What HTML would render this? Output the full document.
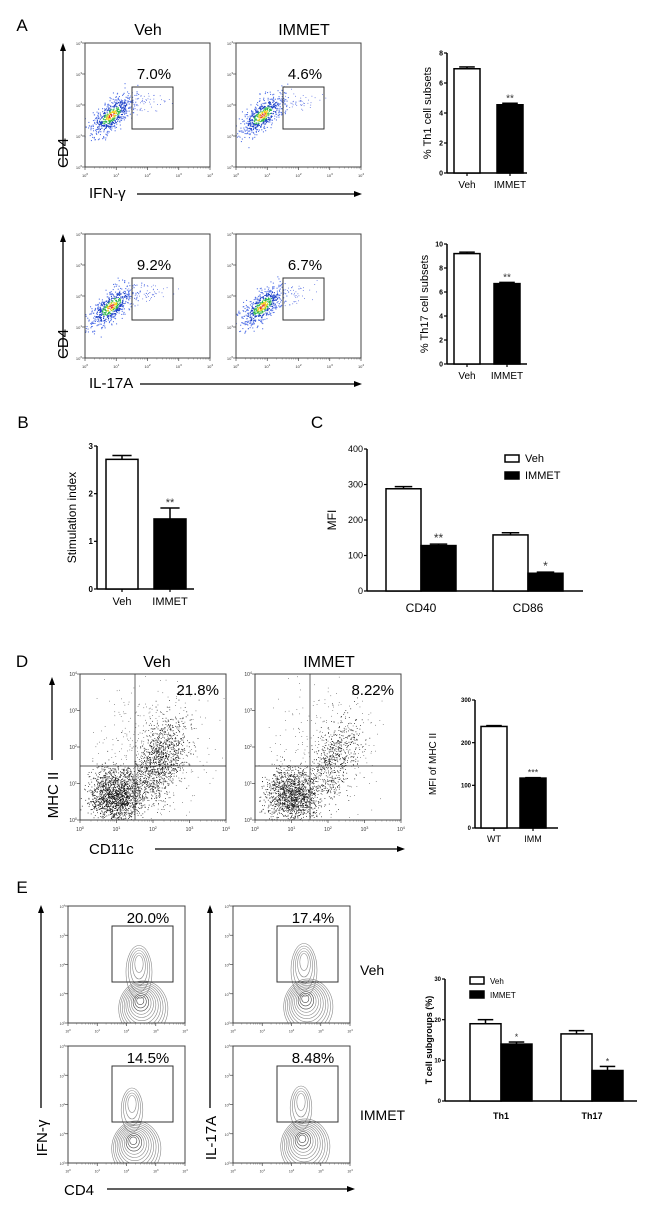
<!DOCTYPE html>
<html><head><meta charset="utf-8"><title>Figure</title>
<style>
html,body{margin:0;padding:0;background:#fff;}
svg{display:block;font-family:"Liberation Sans",Arial,sans-serif;}
</style></head>
<body>
<svg id="fig" width="650" height="1209" viewBox="0 0 650 1209" xmlns="http://www.w3.org/2000/svg">
<rect x="0" y="0" width="650" height="1209" fill="#fff"/>
<defs id="defs"></defs>
<g id="root"></g>
</svg>
<script>
// ---------- data ----------
const th1Cats = ["Veh", "IMMET"];
const th1Vals = [6.95, 4.55];
const th1Errs = [0.12, 0.1];
const th1Ticks = [0, 2, 4, 6, 8];
const th1Stars = ["", "**"];

const th17Cats = ["Veh", "IMMET"];
const th17Vals = [9.2, 6.7];
const th17Errs = [0.12, 0.1];
const th17Ticks = [0, 2, 4, 6, 8, 10];
const th17Stars = ["", "**"];

const siCats = ["Veh", "IMMET"];
const siVals = [2.72, 1.47];
const siErrs = [0.08, 0.23];
const siTicks = [0, 1, 2, 3];
const siStars = ["", "**"];

const mfiGroups = ["CD40", "CD86"];
const mfiVeh = [288, 158];
const mfiVehErr = [6, 6];
const mfiImm = [128, 50];
const mfiImmErr = [4, 3];
const mfiTicks = [0, 100, 200, 300, 400];
const mfiStars = ["**", "*"];

const mhcCats = ["WT", "IMM"];
const mhcVals = [238, 117];
const mhcErrs = [2, 1];
const mhcTicks = [0, 100, 200, 300];
const mhcStars = ["", "***"];

const tGroups = ["Th1", "Th17"];
const tVeh = [19, 16.5];
const tVehErr = [1, 0.8];
const tImm = [14, 7.5];
const tImmErr = [0.5, 1];
const tTicks = [0, 10, 20, 30];
const tStars = ["*", "*"];

const flowPctA = ["7.0%", "4.6%", "9.2%", "6.7%"];
const flowPctD = ["21.8%", "8.22%"];
const flowPctE = ["20.0%", "17.4%", "14.5%", "8.48%"];

// ---------- helpers ----------
const NS = "http://www.w3.org/2000/svg";
const root = document.getElementById("root");
const defs = document.getElementById("defs");
let clipId = 0;
function el(tag, attrs, parent, text) {
  const e = document.createElementNS(NS, tag);
  for (const k in attrs) e.setAttribute(k, attrs[k]);
  if (text !== undefined) e.textContent = text;
  (parent || root).appendChild(e);
  return e;
}
function grp(name, parent) {
  const g = el("g", {}, parent);
  
  
  return g;
}
function txt(parent, name, x, y, s, size, opts) {
  opts = opts || {};
  const t = el("text", {x: x, y: y, "font-size": size, fill: opts.fill || "#000",
    "text-anchor": opts.anchor || "middle", "font-weight": opts.bold ? "bold" : "normal"}, parent, s);
  if (opts.rot) t.setAttribute("transform", "rotate(-90 " + x + " " + y + ")");
  
  
  return t;
}
function arrowH(parent, name, x1, x2, y) {
  const g = grp(name, parent);
  el("line", {x1: x1, y1: y, x2: x2 - 6, y2: y, stroke: "#000", "stroke-width": 1.3}, g);
  el("polygon", {points: (x2) + "," + y + " " + (x2 - 8) + "," + (y - 3) + " " + (x2 - 8) + "," + (y + 3), fill: "#000"}, g);
}
function arrowV(parent, name, x, y1, y2) {
  const g = grp(name, parent);
  el("line", {x1: x, y1: y2, x2: x, y2: y1 + 6, stroke: "#000", "stroke-width": 1.3}, g);
  el("polygon", {points: x + "," + y1 + " " + (x - 3) + "," + (y1 + 8) + " " + (x + 3) + "," + (y1 + 8), fill: "#000"}, g);
}
let seed = 12345;
function rnd() { seed = (seed * 16807) % 2147483647; return (seed - 1) / 2147483646; }
function gauss() { let u = 0; for (let i = 0; i < 4; i++) u += rnd(); return (u - 2) / 0.58; }

function logLabel(parent, x, y, exp, size, anchor) {
  const t = el("text", {x: x, y: y, "font-size": size, fill: "#333", "text-anchor": anchor || "middle"}, parent);
  
  
  el("tspan", {}, t, "10");
  el("tspan", {dy: -size * 0.45, "font-size": size * 0.75}, t, String(exp));
  return t;
}
function flowBox(parent, name, x, y, w, h, sz) {
  const g = grp(name, parent);
  const id = "clip" + (clipId++);
  const cp = el("clipPath", {id: id}, defs);
  el("rect", {x: x, y: y, width: w, height: h}, cp);
  const inner = el("g", {"clip-path": "url(#" + id + ")"}, g);
  el("rect", {x: x, y: y, width: w, height: h, fill: "none", stroke: "#444", "stroke-width": 1}, g);
  for (let i = 0; i <= 4; i++) {
    const yy = y + h - i * h / 4, xx = x + i * w / 4;
    logLabel(g, x - 3, yy + 2, i, sz, "end");
    logLabel(g, xx, y + h + sz + 6, i, sz);
    el("line", {x1: x - 3, y1: yy, x2: x, y2: yy, stroke: "#444", "stroke-width": 0.7}, g);
    el("line", {x1: xx, y1: y + h, x2: xx, y2: y + h + 3, stroke: "#444", "stroke-width": 0.7}, g);
    if (i < 4) for (let m = 2; m < 10; m++) {
      const f = Math.log10(m) * w / 4;
      el("line", {x1: xx + f, y1: y + h, x2: xx + f, y2: y + h + 1.5, stroke: "#666", "stroke-width": 0.5}, g);
    }
  }
  return inner;
}
function cluster(parent, cx, cy, sx, sy, rot, n, colorFn, r) {
  const c = Math.cos(rot), s = Math.sin(rot);
  for (let i = 0; i < n; i++) {
    const a = gauss(), b = gauss();
    const dx = a * sx, dy = b * sy;
    const d = Math.sqrt(a * a + b * b);
    el("rect", {x: (cx + dx * c - dy * s).toFixed(1), y: (cy + dx * s + dy * c).toFixed(1), width: r, height: r, fill: colorFn(d)}, parent);
  }
}
const heat = d => d < 0.25 ? "#e0302a" : d < 0.5 ? "#f2d21a" : d < 0.85 ? "#2fb84a" : d < 1.4 ? "#1a3fc8" : "#5a78e8";
const blue = () => "#4a62e0";
const blk = () => "#111";

function bar2(name, parent, ax, y0, yTop, max, xEnd, cats, vals, errs, ticks, stars, bx, bw, fs, bold, ylabel, ylx) {
  const g = grp(name, parent);
  const sy = v => y0 - (v / max) * (y0 - yTop);
  el("line", {x1: ax, y1: yTop, x2: ax, y2: y0, stroke: "#000", "stroke-width": 1.5}, g);
  el("line", {x1: ax, y1: y0, x2: xEnd, y2: y0, stroke: "#000", "stroke-width": 1.5}, g);
  ticks.forEach(t => {
    el("line", {x1: ax - 3, y1: sy(t), x2: ax, y2: sy(t), stroke: "#000", "stroke-width": 1.2}, g);
    txt(g, "y-tick-label", ax - 4, sy(t) + fs * 0.35, String(t), fs, {anchor: "end", bold: bold});
  });
  vals.forEach((v, i) => {
    const x = bx[i];
    const b = el("rect", {x: x, y: sy(v), width: bw, height: y0 - sy(v), fill: i === 0 ? "#fff" : "#000", stroke: "#000", "stroke-width": 1.5}, g);
    
    
    const ey = sy(v + errs[i]);
    el("line", {x1: x + bw / 2, y1: sy(v), x2: x + bw / 2, y2: ey, stroke: "#000", "stroke-width": 1.5}, g);
    el("line", {x1: x + bw / 2 - bw * 0.3, y1: ey, x2: x + bw / 2 + bw * 0.3, y2: ey, stroke: "#000", "stroke-width": 1.5}, g);
    el("line", {x1: x + bw / 2, y1: y0, x2: x + bw / 2, y2: y0 + 3, stroke: "#000", "stroke-width": 1.2}, g);
    txt(g, "x-tick-label", x + bw / 2, y0 + fs + 8, cats[i], fs + 3);
    if (stars[i]) txt(g, "significance-stars", x + bw / 2, ey - 2, stars[i], fs + 3, {fill: "#333"});
  });
  txt(g, "y-axis-title", ylx, (yTop + y0) / 2, ylabel, fs + 4, {rot: true});
  return g;
}
function groupedBar(name, parent, ax, y0, yTop, max, xEnd, groups, veh, vehErr, imm, immErr, ticks, stars, gx, bw, fs, bold, ylabel, ylx, lx, ly, lgap, lfs) {
  const g = grp(name, parent);
  const sy = v => y0 - (v / max) * (y0 - yTop);
  el("line", {x1: ax, y1: yTop, x2: ax, y2: y0, stroke: "#000", "stroke-width": 1.5}, g);
  el("line", {x1: ax, y1: y0, x2: xEnd, y2: y0, stroke: "#000", "stroke-width": 1.5}, g);
  ticks.forEach(t => {
    el("line", {x1: ax - 3, y1: sy(t), x2: ax, y2: sy(t), stroke: "#000", "stroke-width": 1.2}, g);
    txt(g, "y-tick-label", ax - 4, sy(t) + fs * 0.35, String(t), fs, {anchor: "end", bold: bold});
  });
  groups.forEach((gn, i) => {
    [[veh, vehErr, "#fff"], [imm, immErr, "#000"]].forEach((s, j) => {
      const x = gx[i] + j * bw, v = s[0][i];
      const b = el("rect", {x: x, y: sy(v), width: bw, height: y0 - sy(v), fill: s[2], stroke: "#000", "stroke-width": 1.5}, g);
      
      
      const ey = sy(v + s[1][i]);
      el("line", {x1: x + bw / 2, y1: sy(v), x2: x + bw / 2, y2: ey, stroke: "#000", "stroke-width": 1.5}, g);
      el("line", {x1: x + bw * 0.25, y1: ey, x2: x + bw * 0.75, y2: ey, stroke: "#000", "stroke-width": 1.5}, g);
      if (j === 1 && stars[i]) txt(g, "significance-stars", x + bw / 2, ey - 2, stars[i], fs + 3, {fill: "#333"});
    });
    txt(g, "x-tick-label", gx[i] + bw, y0 + fs + 12, gn, fs + 3, {bold: bold});
  });
  txt(g, "y-axis-title", ylx, (yTop + y0) / 2, ylabel, fs + 3, {rot: true, bold: bold});
  const lg = grp("legend", g);
  el("rect", {x: lx, y: ly, width: 14, height: 7, fill: "#fff", stroke: "#000", "stroke-width": 1.5}, lg);
  txt(lg, "legend-entry-veh", lx + 20, ly + 7, "Veh", lfs, {anchor: "start"});
  el("rect", {x: lx, y: ly + lgap, width: 14, height: 7, fill: "#000", stroke: "#000", "stroke-width": 1.5}, lg);
  txt(lg, "legend-entry-immet", lx + 20, ly + lgap + 7, "IMMET", lfs, {anchor: "start"});
}

// ---------- Panel A ----------
const pA = grp("panel-a");
txt(pA, "panel-label-a", 22, 31, "A", 17);
txt(pA, "column-title-veh", 148, 35, "Veh", 16);
txt(pA, "column-title-immet", 304, 35, "IMMET", 16);
const aRows = [{y: 43, gy: 87, lbl: "IFN-γ", ly: 200, ty: 79}, {y: 234, gy: 278, lbl: "IL-17A", ly: 390, ty: 270}];
aRows.forEach((r, ri) => {
  [85, 236].forEach((bx, ci) => {
    const g = flowBox(pA, "flow-plot-a-" + ri + "-" + ci, bx, r.y, 125, 124, 4);
    cluster(g, bx + 60, r.y + 60, 12, 5, -0.2, ci ? 45 : 60, blue, 0.8);
    cluster(g, bx + 26, r.y + 72, 14, 6, -0.75, 550, heat, 1.1);
    el("rect", {x: bx + 47, y: r.gy, width: 41, height: 42, fill: "none", stroke: "#333", "stroke-width": 1}, g);
    txt(g, "gate-percentage", bx + 69, r.ty, flowPctA[ri * 2 + ci], 15);
  });
  arrowV(pA, "y-axis-arrow", 63, r.y, r.y + 124);
  txt(pA, "y-axis-title-cd4", 68, r.y + 110, "CD4", 15, {rot: true});
  txt(pA, "x-axis-title", 89, r.ly - 2, r.lbl, 15, {anchor: "start"});
  arrowH(pA, "x-axis-arrow", ri ? 140 : 137, 362, r.ly - 6);
});
bar2("th1-bar-chart", pA, 447, 173, 53, 8, 527, th1Cats, th1Vals, th1Errs, th1Ticks, th1Stars, [454, 497], 26, 7, true, "% Th1 cell subsets", 431);
bar2("th17-bar-chart", pA, 447, 364, 244, 10, 527, th17Cats, th17Vals, th17Errs, th17Ticks, th17Stars, [454, 494], 26, 7, true, "% Th17 cell subsets", 428);

// ---------- Panel B ----------
const pB = grp("panel-b");
txt(pB, "panel-label-b", 23, 428, "B", 17);
bar2("stimulation-bar-chart", pB, 97, 589, 446, 3, 194, siCats, siVals, siErrs, siTicks, siStars, [106, 154], 32, 8, true, "Stimulation index", 76);

// ---------- Panel C ----------
const pC = grp("panel-c");
txt(pC, "panel-label-c", 317, 428, "C", 17);
groupedBar("mfi-bar-chart", pC, 367, 591, 449, 400, 583, mfiGroups, mfiVeh, mfiVehErr, mfiImm, mfiImmErr, mfiTicks, mfiStars, [386, 493], 35, 9, false, "MFI", 336, 505, 455, 17, 11);

// ---------- Panel D ----------
const pD = grp("panel-d");
txt(pD, "panel-label-d", 22, 667, "D", 17);
txt(pD, "column-title-veh", 157, 667, "Veh", 16);
txt(pD, "column-title-immet", 329, 667, "IMMET", 16);
[80, 255].forEach((bx, ci) => {
  const g = flowBox(pD, "flow-plot-d-" + ci, bx, 674, 146, 146, 5);
  cluster(g, bx + 37, 795, 13, 13, 0.3, ci ? 1400 : 1700, blk, 0.8);
  cluster(g, bx + 80, 760, 11, 22, 0.35, ci ? 600 : 1100, blk, 0.8);
  cluster(g, bx + 70, 750, 28, 36, 0.3, ci ? 300 : 450, () => "#444", 0.7);
  el("line", {x1: bx + 55, y1: 674, x2: bx + 55, y2: 820, stroke: "#555", "stroke-width": 0.9}, g);
  el("line", {x1: bx, y1: 766, x2: bx + 146, y2: 766, stroke: "#555", "stroke-width": 0.9}, g);
  txt(g, "quadrant-percentage", bx + 139, 695, flowPctD[ci], 15, {anchor: "end"});
});
arrowV(pD, "y-axis-arrow", 52, 677, 760);
txt(pD, "y-axis-title-mhc", 58, 795, "MHC II", 15, {rot: true});
txt(pD, "x-axis-title-cd11c", 89, 854, "CD11c", 15, {anchor: "start"});
arrowH(pD, "x-axis-arrow", 155, 405, 849);
bar2("mhc-bar-chart", pD, 475, 828, 700, 300, 558, mhcCats, mhcVals, mhcErrs, mhcTicks, mhcStars, [481, 520], 26, 6, true, "MFI of MHC II", 436);

// ---------- Panel E ----------
const pE = grp("panel-e");
txt(pE, "panel-label-e", 22, 893, "E", 17);
const eBoxes = [[68, 906, 140, 1000, 0], [233, 906, 305, 998, 1], [68, 1046, 133, 1140, 2], [233, 1046, 302, 1138, 3]];
eBoxes.forEach(b => {
  const g = flowBox(pE, "contour-plot-e-" + b[4], b[0], b[1], 117, 117, 3.5);
  for (let k = 1; k <= 11; k++) {
    el("ellipse", {cx: b[2] + k * 0.3, cy: b[3] + k * 0.8, rx: 1.5 + k * 2.1, ry: 1.5 + k * 2.4, fill: "none", stroke: k < 4 ? "#444" : "#888", "stroke-width": 0.6}, g);
  }
  const top = b[4] < 2;
  const lobes = top ? 5 : 4;
  for (let k = 1; k <= lobes; k++) {
    el("ellipse", {cx: b[2] - 1, cy: b[3] - 38 + k * 2, rx: 2 + k * 2.2, ry: 4 + k * 4.5, fill: "none", stroke: "#888", "stroke-width": 0.6}, g);
  }
  const gx = b[0] + 44, gy = top ? 926 : 1066;
  el("rect", {x: gx, y: gy, width: 61, height: 56, fill: "none", stroke: "#333", "stroke-width": 1}, g);
  txt(g, "gate-percentage", gx + 36, gy - 3, flowPctE[b[4]], 15);
});
arrowV(pE, "y-axis-arrow-ifn", 41, 905, 1108);
txt(pE, "y-axis-title-ifn", 47, 1138, "IFN-γ", 15, {rot: true});
arrowV(pE, "y-axis-arrow-il17a", 210, 905, 1108);
txt(pE, "y-axis-title-il17a", 216, 1138, "IL-17A", 15, {rot: true});
txt(pE, "row-label-veh", 360, 975, "Veh", 14, {anchor: "start"});
txt(pE, "row-label-immet", 360, 1120, "IMMET", 14, {anchor: "start"});
txt(pE, "x-axis-title-cd4", 64, 1195, "CD4", 15, {anchor: "start"});
arrowH(pE, "x-axis-arrow", 107, 355, 1189);
groupedBar("t-cell-bar-chart", pE, 445, 1101, 979, 30, 637, tGroups, tVeh, tVehErr, tImm, tImmErr, tTicks, tStars, [470, 561], 31, 6, true, "T cell subgroups (%)", 432, 470, 977, 14, 8);
</script>
</body></html>
